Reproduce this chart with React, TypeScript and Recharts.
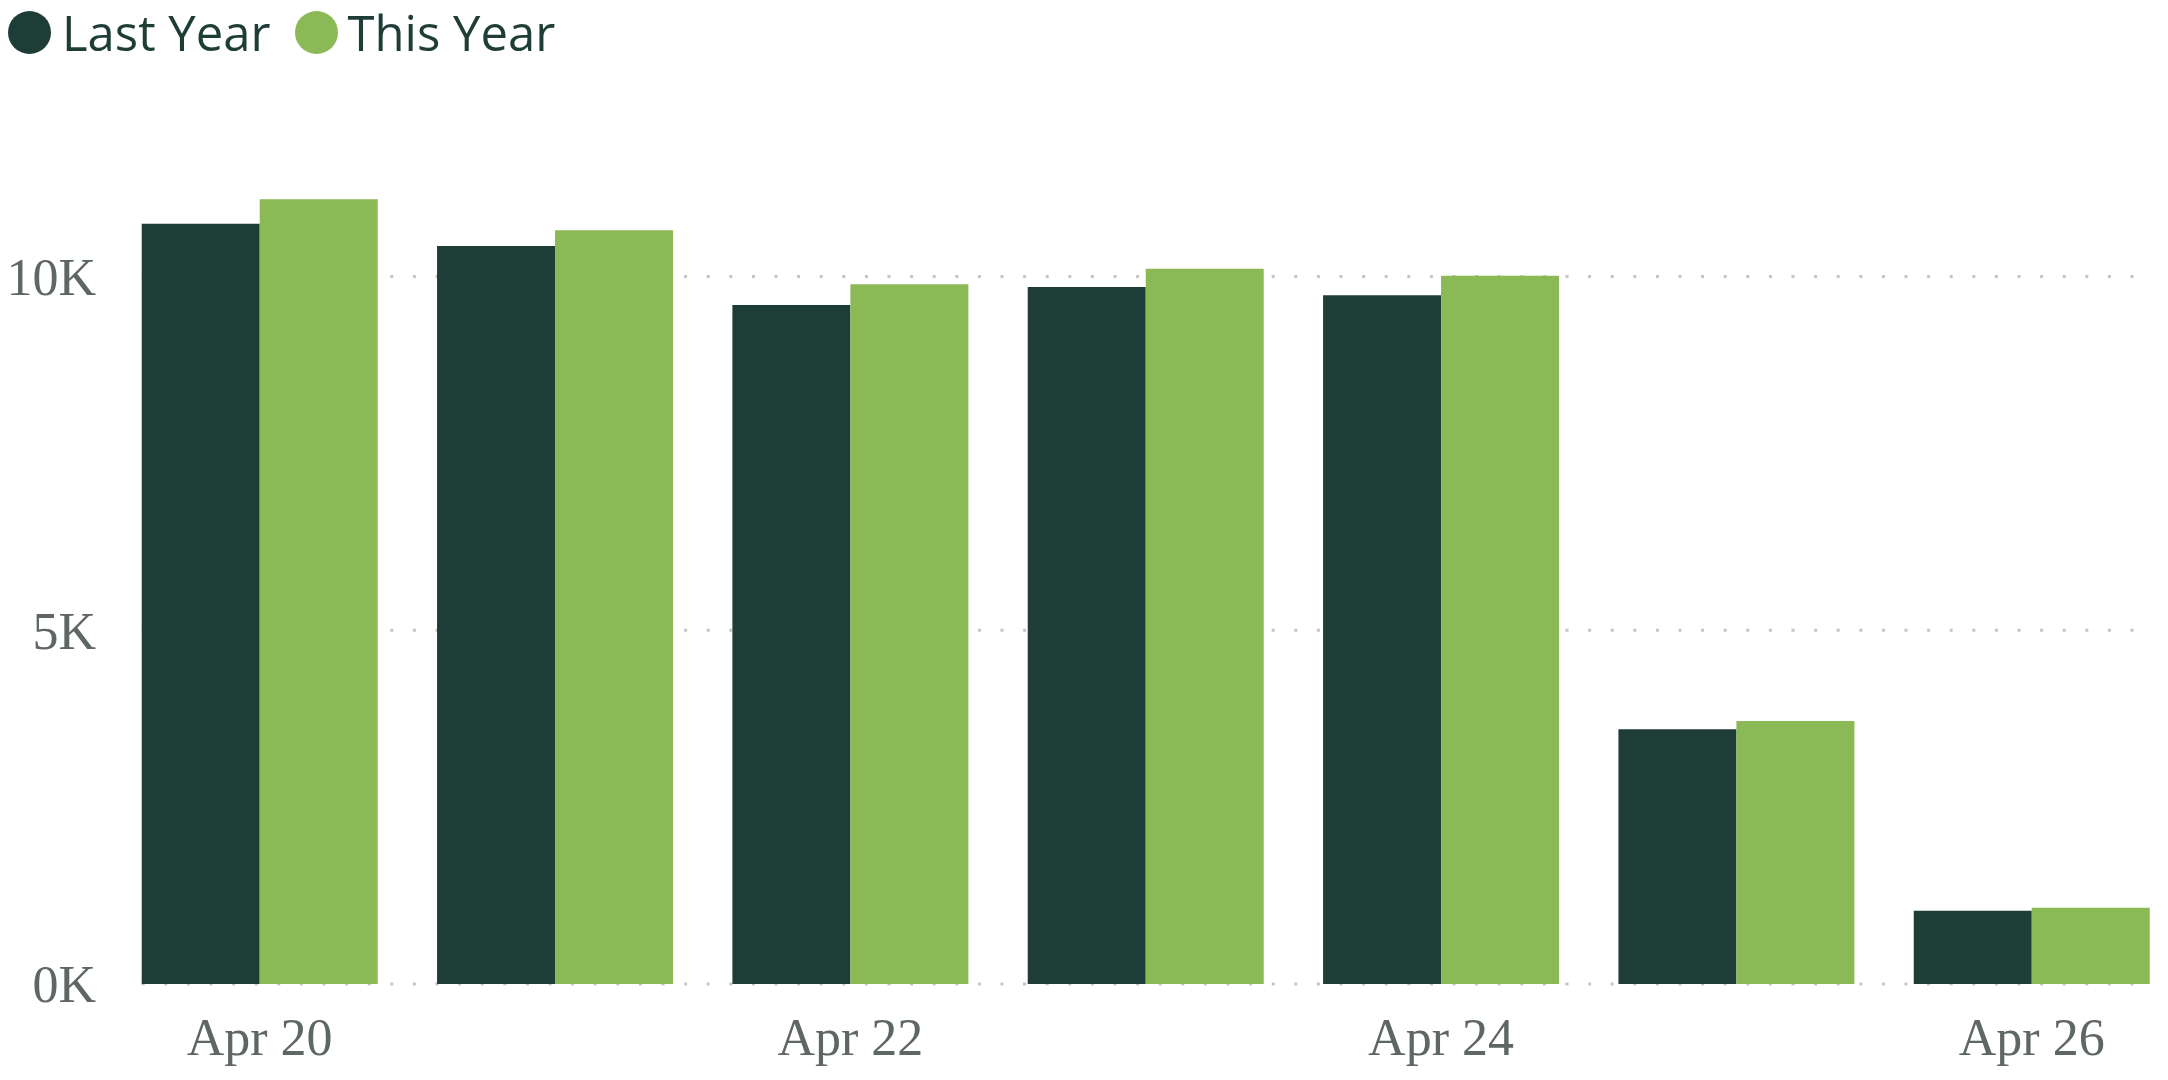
import React from 'react';
import { BarChart, Bar, XAxis, YAxis, CartesianGrid, Legend } from 'recharts';

const categories = ['Apr 20', 'Apr 21', 'Apr 22', 'Apr 23', 'Apr 24', 'Apr 25', 'Apr 26'];
const lastYear = [10746, 10431, 9597, 9852, 9734, 3600, 1036];
const thisYear = [11091, 10653, 9890, 10110, 10011, 3717, 1078];
const yTicks = [0, 5000, 10000];
const seriesNames = ['Last Year', 'This Year'];
const seriesColors = ['#1F3D37', '#8AB956'];

const data = categories.map((c, i) => ({ day: c, lastYear: lastYear[i], thisYear: thisYear[i] }));

const LEGEND_H = 60;

const renderLegend = () => (
  <div style={{ display: 'flex', alignItems: 'center', height: LEGEND_H, fontFamily: "'Open Sans', sans-serif", fontSize: 49, color: '#1F3D37', lineHeight: `${LEGEND_H}px`, whiteSpace: 'nowrap' }}>
    {seriesNames.map((n, i) => (
      <div key={n} style={{ display: 'flex', alignItems: 'center', marginRight: i === 0 ? 24 : 0 }}>
        <span style={{ display: 'inline-block', width: 43, height: 43, borderRadius: '50%', background: seriesColors[i], marginRight: i === 0 ? 11 : 10 }} />
        <span>{n}</span>
      </div>
    ))}
  </div>
);

export default function App() {
  return (
    <div style={{ width: 2168, height: 1080, marginLeft: -8, marginTop: -8, overflow: 'hidden' }}>
      <BarChart
        width={2168}
        height={1080}
        data={data}
        margin={{ top: 135 - LEGEND_H, right: 18.3, bottom: 0, left: 0 }}
        barCategoryGap={29.7}
        barGap={0}
      >
        <CartesianGrid vertical={false} horizontalValues={yTicks} stroke="#C4C6C4" strokeWidth={3} strokeDasharray="3 19.6" />
        <Legend verticalAlign="top" align="left" content={renderLegend} wrapperStyle={{ top: 2, left: 8, height: LEGEND_H }} />
        <XAxis
          dataKey="day"
          axisLine={false}
          tickLine={false}
          tickSize={0}
          tickMargin={34}
          height={96}
          interval={1}
          padding={{ left: -29.7, right: -29.7 }}
          tick={{ fill: '#5E6761', fontSize: 52, fontFamily: "'Liberation Serif', serif" }}
        />
        <YAxis
          domain={[0, 12000]}
          ticks={yTicks}
          axisLine={false}
          tickLine={false}
          tickSize={0}
          tickMargin={45.7}
          width={141.7}
          tickFormatter={(v: number) => `${v / 1000}K`}
          tick={{ fill: '#5E6761', fontSize: 52, fontFamily: "'Liberation Serif', serif" }}
        />
        <Bar dataKey="lastYear" name={seriesNames[0]} fill={seriesColors[0]} isAnimationActive={false} />
        <Bar dataKey="thisYear" name={seriesNames[1]} fill={seriesColors[1]} isAnimationActive={false} />
      </BarChart>
    </div>
  );
}
